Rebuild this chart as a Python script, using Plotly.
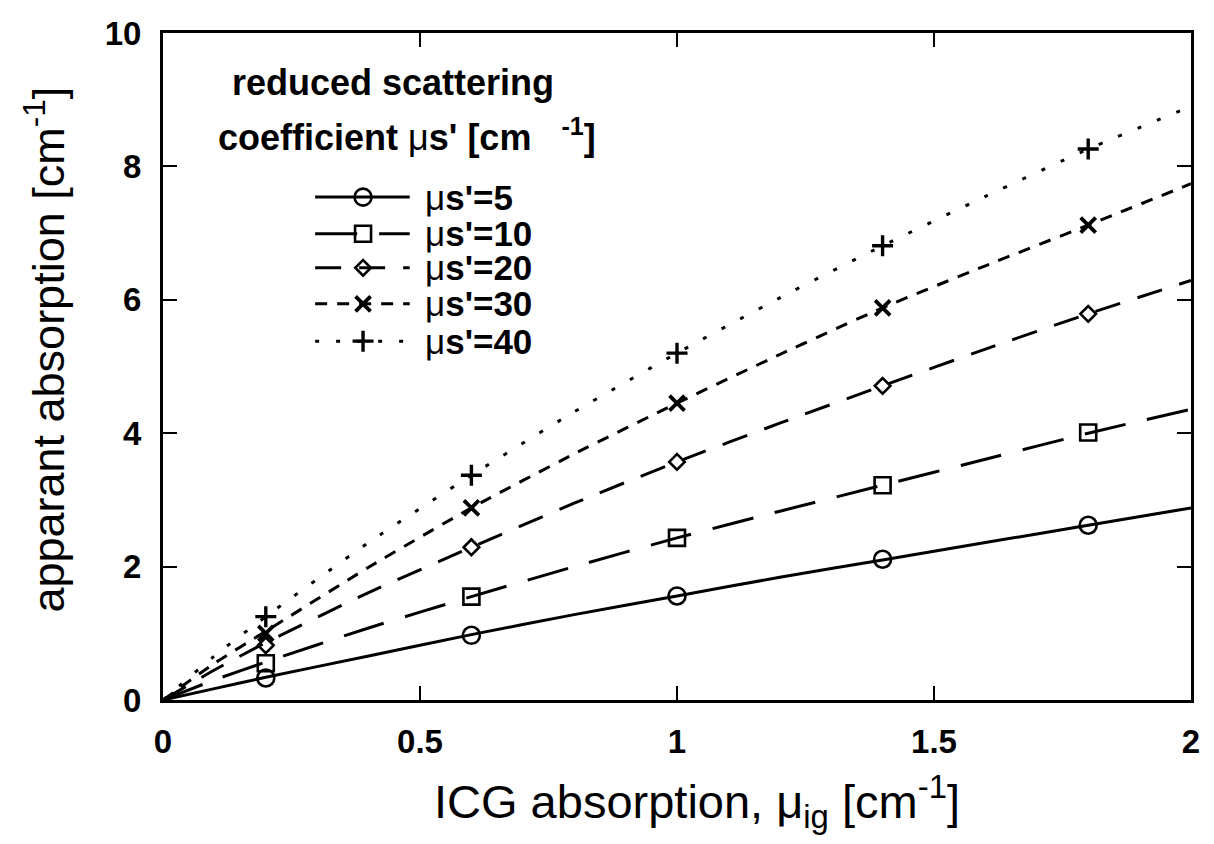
import plotly.graph_objects as go

# ICG absorption grid for the model curves [cm^-1]
x_curve = [0.0, 0.1, 0.2, 0.4, 0.6, 0.8, 1.0, 1.2, 1.4, 1.6, 1.8, 2.0]
curve_5 = [0.0, 0.17, 0.34, 0.66, 0.98, 1.28, 1.56, 1.84, 2.10, 2.36, 2.62, 2.88]
curve_10 = [0.0, 0.30, 0.57, 1.08, 1.55, 2.00, 2.43, 2.83, 3.22, 3.61, 4.00, 4.36]
curve_20 = [0.0, 0.45, 0.86, 1.61, 2.29, 2.95, 3.57, 4.15, 4.71, 5.26, 5.79, 6.29]
curve_30 = [0.0, 0.55, 1.03, 1.99, 2.88, 3.69, 4.45, 5.18, 5.88, 6.51, 7.12, 7.74]
curve_40 = [0.0, 0.66, 1.25, 2.36, 3.37, 4.32, 5.20, 6.03, 6.81, 7.55, 8.26, 8.90]

# measured points
x_meas = [0.2, 0.6, 1.0, 1.4, 1.8]
meas_5 = [0.33, 0.97, 1.56, 2.11, 2.62]
meas_10 = [0.55, 1.55, 2.43, 3.22, 4.01]
meas_20 = [0.82, 2.29, 3.57, 4.71, 5.79]
meas_30 = [1.00, 2.88, 4.45, 5.88, 7.12]
meas_40 = [1.25, 3.37, 5.20, 6.81, 8.26]

series_names = ["5", "10", "20", "30", "40"]
x_ticks = [0, 0.5, 1, 1.5, 2]
x_tick_text = ["0", "0.5", "1", "1.5", "2"]
y_ticks = [0, 2, 4, 6, 8, 10]

curves = [curve_5, curve_10, curve_20, curve_30, curve_40]
points = [meas_5, meas_10, meas_20, meas_30, meas_40]
dashes = ["solid", "42px,22px", "26px,18px", "12px,10px", "4px,17px"]
symbols = ["circle-open", "square-open", "diamond-open", "x-thin-open", "cross-thin-open"]
sizes = [17, 16, 12, 15, 15]
marker_widths = [2.6, 2.6, 2.6, 3.8, 3.4]

FONT = "Liberation Sans, Arial, Helvetica, sans-serif"
BLACK = "#000000"

fig = go.Figure()

for cy, py, dash, sym, sz, mw in zip(curves, points, dashes, symbols, sizes, marker_widths):
    fig.add_trace(go.Scatter(
        x=x_curve, y=cy, mode="lines",
        line=dict(color=BLACK, width=3, dash=dash, shape="spline", smoothing=0.6),
        showlegend=False, hoverinfo="skip", cliponaxis=True))
    fig.add_trace(go.Scatter(
        x=x_meas, y=py, mode="markers",
        marker=dict(symbol=sym, size=sz, color=BLACK, line=dict(color=BLACK, width=mw)),
        showlegend=False, cliponaxis=False))

# hand-built key on an overlay axis spanning the plot area (0..1 in both directions)
key_rows = [0.754, 0.699, 0.648, 0.594, 0.538]
key_x0, key_xm, key_x1, key_text_x = 0.148, 0.1946, 0.240, 0.253
for name, ky, dash, sym, sz, mw in zip(series_names, key_rows, dashes, symbols, sizes, marker_widths):
    fig.add_trace(go.Scatter(
        x=[key_x0, key_xm, key_x1], y=[ky, ky, ky], mode="lines",
        line=dict(color=BLACK, width=3, dash=dash),
        xaxis="x2", yaxis="y2", showlegend=False, hoverinfo="skip", cliponaxis=False))
    fig.add_trace(go.Scatter(
        x=[key_xm], y=[ky], mode="markers",
        marker=dict(symbol=sym, size=sz, color=BLACK, line=dict(color=BLACK, width=mw)),
        xaxis="x2", yaxis="y2", showlegend=False, hoverinfo="skip", cliponaxis=False))
    fig.add_annotation(
        x=key_text_x, y=ky, xref="paper", yref="paper", xanchor="left", yanchor="middle",
        text="\u03bc<b>s'=" + name + "</b>", showarrow=False,
        font=dict(family=FONT, size=35, color=BLACK))

fig.add_annotation(
    x=0.065, y=0.9265, xref="paper", yref="paper", xanchor="left", yanchor="middle",
    text="<b>reduced scattering</b>", showarrow=False,
    font=dict(family=FONT, size=36, color=BLACK))
fig.add_annotation(
    x=0.052, y=0.847, xref="paper", yref="paper", xanchor="left", yanchor="middle",
    text="<b>coefficient </b>\u03bc<b>s' [cm</b>   <sup><b>-1</b></sup><b>]</b>", showarrow=False,
    font=dict(family=FONT, size=36, color=BLACK))

# axis titles
fig.add_annotation(
    x=-0.115, y=0.525, xref="paper", yref="paper", xanchor="center", yanchor="middle",
    text="apparant absorption [cm<sup>-1</sup>]", textangle=-90, showarrow=False,
    font=dict(family=FONT, size=45, color=BLACK))
fig.add_annotation(
    x=0.519, y=-0.152, xref="paper", yref="paper", xanchor="center", yanchor="middle",
    text="ICG absorption, \u03bc<sub>ig</sub> [cm<sup>-1</sup>]", showarrow=False,
    font=dict(family=FONT, size=47, color=BLACK))

axis_common = dict(
    showline=True, linecolor=BLACK, linewidth=3, mirror="ticks",
    ticks="inside", ticklen=14, tickwidth=2, tickcolor=BLACK,
    showgrid=False, zeroline=False,
    tickfont=dict(family=FONT, size=33, color=BLACK, weight="bold"),
)

fig.update_layout(
    width=1214, height=844,
    margin=dict(l=163, r=23, t=33, b=144),
    paper_bgcolor="white", plot_bgcolor="white",
    xaxis=dict(range=[0, 2], tickvals=x_ticks, ticktext=x_tick_text,
               ticklabelstandoff=10, **axis_common),
    yaxis=dict(range=[0, 10], tickvals=y_ticks, ticklabelstandoff=12, **axis_common),
    xaxis2=dict(range=[0, 1], overlaying="x", visible=False),
    yaxis2=dict(range=[0, 1], overlaying="y", visible=False),
    showlegend=False,
)

fig.write_html("out.html")
